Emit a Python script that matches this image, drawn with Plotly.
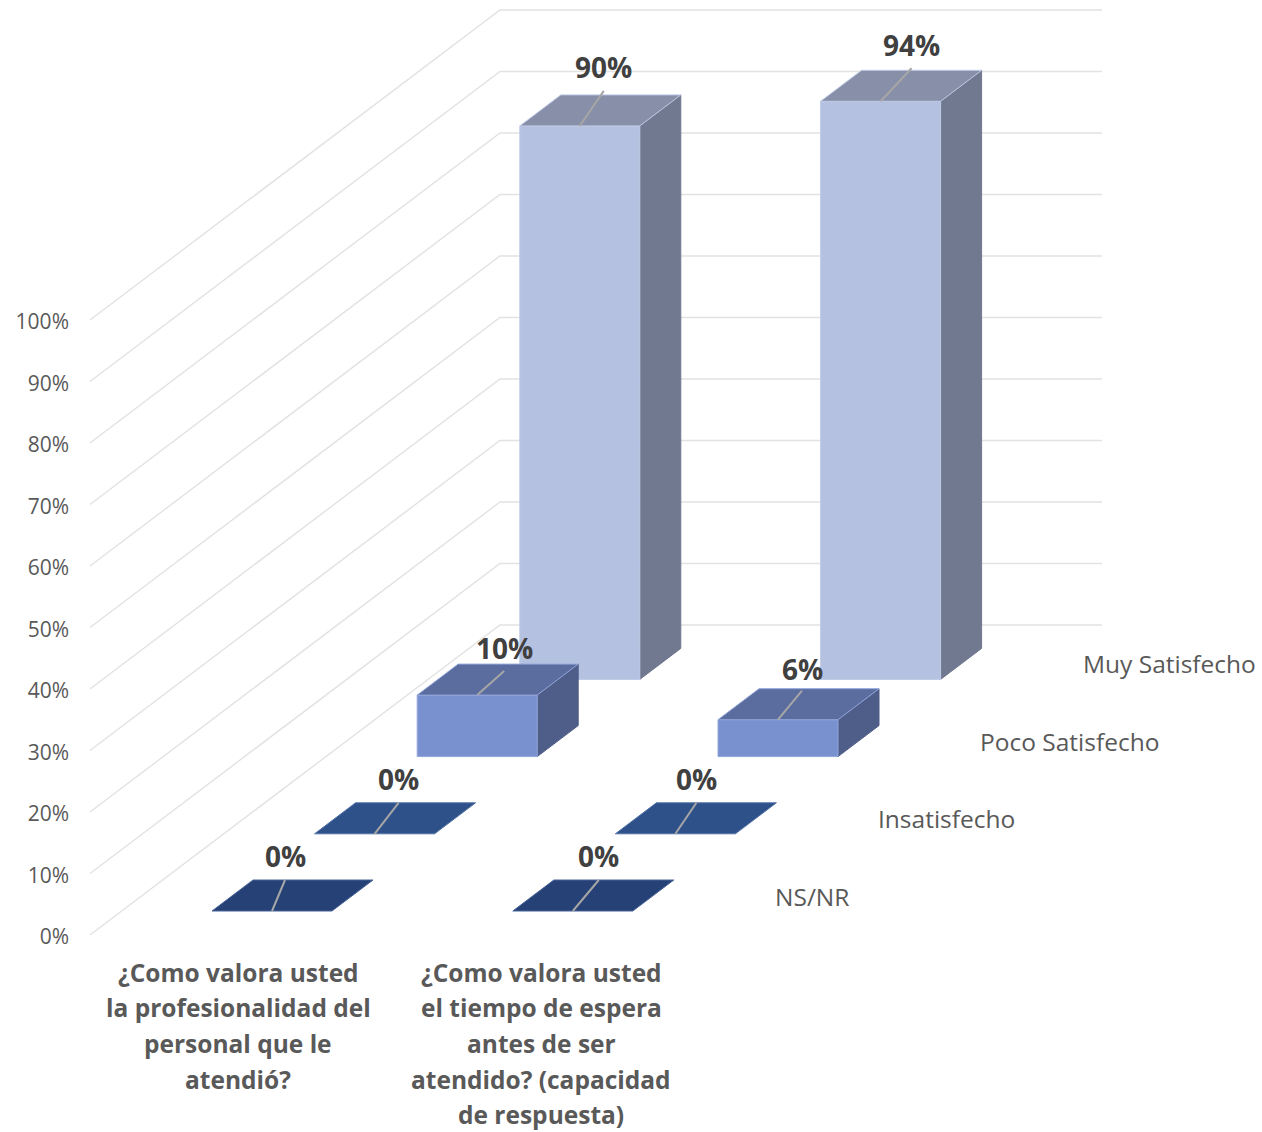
import plotly.graph_objects as go

# Survey results, percent of answers per question
categories = [
    ["¿Como valora usted", "la profesionalidad del", "personal que le", "atendió?"],
    ["¿Como valora usted", "el tiempo de espera", "antes de ser", "atendido? (capacidad", "de respuesta)"],
]
series_names = ["NS/NR", "Insatisfecho", "Poco Satisfecho", "Muy Satisfecho"]
ns_nr = [0, 0]
insatisfecho = [0, 0]
poco_satisfecho = [10, 6]
muy_satisfecho = [90, 94]
series_values = [ns_nr, insatisfecho, poco_satisfecho, muy_satisfecho]
axis_ticks = list(range(0, 101, 10))

# Face colours per series: front, side, top
front_colors = ["#254175", "#2f5189", "#7a91d0", "#b4c1e0"]
side_colors = ["#1c3158", "#233d67", "#4f5d89", "#70798f"]
top_colors = ["#254175", "#2f5189", "#5b6d9f", "#8890a9"]
edge_colors = ["#4a659a", "#5273a8", "#92a6da", "#bfcae6"]
# Leader line end relative to the bar's front edge centre, and label lift above it
leader_dx = [[13, 26], [24, 21], [27, 24], [24, 31]]
leader_top = [[31, 31], [31, 31], [24, 29], [35, 33]]
label_lift = [[24, 24], [24, 24], [23, 22], [24, 23]]

PX_PER_PCT = 6.15
ZERO_PX = 935
PLOT_LEFT = 72
WIDTH, HEIGHT = 1262, 1132

# Oblique projection of the floor and the bars onto the flat axes (x in px, y in %)
WALL_LEFT, WALL_CORNER, WALL_RIGHT = 90, 500, 1102
WALL_RISE = 310 / PX_PER_PCT
BAR_X0, CAT_STEP, BAR_W = 212, 300.8, 120
BAR_DX, BAR_DY = 41, 31 / PX_PER_PCT
ROW_DX, ROW_DY = 102.6, 77.2 / PX_PER_PCT
BAR_BASE = 24 / PX_PER_PCT


def corner(cat, row, value, right=0, back=0):
    x = BAR_X0 + cat * CAT_STEP + row * ROW_DX + right * BAR_W + back * BAR_DX
    y = BAR_BASE + row * ROW_DY + value + back * BAR_DY
    return x, y


def face(points, color, edge):
    xs = [p[0] for p in points] + [points[0][0]]
    ys = [p[1] for p in points] + [points[0][1]]
    return go.Scatter(x=xs, y=ys, mode="lines", fill="toself", fillcolor=color,
                      line=dict(color=edge, width=1), hoverinfo="skip", showlegend=False)


fig = go.Figure()

# Floor-to-wall gridlines
for tick in axis_ticks:
    fig.add_trace(go.Scatter(
        x=[WALL_LEFT, WALL_CORNER, WALL_RIGHT],
        y=[tick, tick + WALL_RISE, tick + WALL_RISE],
        mode="lines", line=dict(color="#e2e2e2", width=1.4),
        hoverinfo="skip", showlegend=False))

annotations = []
text_color = "#595959"
label_color = "#404040"

# Rows are drawn back to front so nearer bars overlap farther ones
for row in reversed(range(len(series_values))):
    values = series_values[row]
    for cat, value in enumerate(values):
        if value > 0:
            fig.add_trace(face([corner(cat, row, 0, 1, 0), corner(cat, row, 0, 1, 1),
                                corner(cat, row, value, 1, 1), corner(cat, row, value, 1, 0)],
                               side_colors[row], side_colors[row]))
            fig.add_trace(face([corner(cat, row, 0, 0, 0), corner(cat, row, 0, 1, 0),
                                corner(cat, row, value, 1, 0), corner(cat, row, value, 0, 0)],
                               front_colors[row], edge_colors[row]))
        fig.add_trace(face([corner(cat, row, value, 0, 0), corner(cat, row, value, 1, 0),
                            corner(cat, row, value, 1, 1), corner(cat, row, value, 0, 1)],
                           top_colors[row], edge_colors[row]))

        # Leader line and value label
        fx, fy = corner(cat, row, value)
        fx += BAR_W / 2
        end_x = fx + leader_dx[row][cat]
        end_y = fy + leader_top[row][cat] / PX_PER_PCT
        fig.add_trace(go.Scatter(x=[fx, end_x], y=[fy, end_y], mode="lines",
                                 line=dict(color="#a6a6a6", width=2),
                                 hoverinfo="skip", showlegend=False))
        annotations.append(dict(
            x=end_x, y=end_y + label_lift[row][cat] / PX_PER_PCT, xref="x", yref="y",
            text=f"{value}%", showarrow=False, xanchor="center", yanchor="middle",
            font=dict(family="Open Sans", size=28, color=label_color, weight="bold")))

# Series names along the depth axis
for row, name in enumerate(series_names):
    annotations.append(dict(
        x=773 + row * ROW_DX, y=(ZERO_PX - 896.5) / PX_PER_PCT + row * 77.6 / PX_PER_PCT,
        xref="x", yref="y", text=name, showarrow=False, xanchor="left", yanchor="middle",
        font=dict(family="Open Sans", size=24.5, color=text_color)))

# Category labels, one annotation per line to keep the wide leading
category_centres = [238, 541]
for centre, lines in zip(category_centres, categories):
    for i, line in enumerate(lines):
        annotations.append(dict(
            x=centre, y=(ZERO_PX - 972 - i * 35.7) / PX_PER_PCT, xref="x", yref="y",
            text=line, showarrow=False, xanchor="center", yanchor="middle",
            font=dict(family="Open Sans", size=24.5, color=text_color, weight="bold")))

fig.update_layout(
    width=WIDTH, height=HEIGHT,
    margin=dict(l=PLOT_LEFT, r=0, t=0, b=0, pad=0),
    paper_bgcolor="white", plot_bgcolor="white",
    showlegend=False, annotations=annotations,
    xaxis=dict(range=[PLOT_LEFT, WIDTH], visible=False, fixedrange=True),
    yaxis=dict(range=[(ZERO_PX - HEIGHT) / PX_PER_PCT, ZERO_PX / PX_PER_PCT],
               tickvals=axis_ticks, ticktext=[f"{t}%" for t in axis_ticks],
               showgrid=False, zeroline=False, showline=False, ticks="",
               ticklabelstandoff=2, ticklabelshift=2,
               tickfont=dict(family="Open Sans", size=21, color=text_color),
               fixedrange=True),
)

fig.write_html("out.html", config=dict(displayModeBar=False))
